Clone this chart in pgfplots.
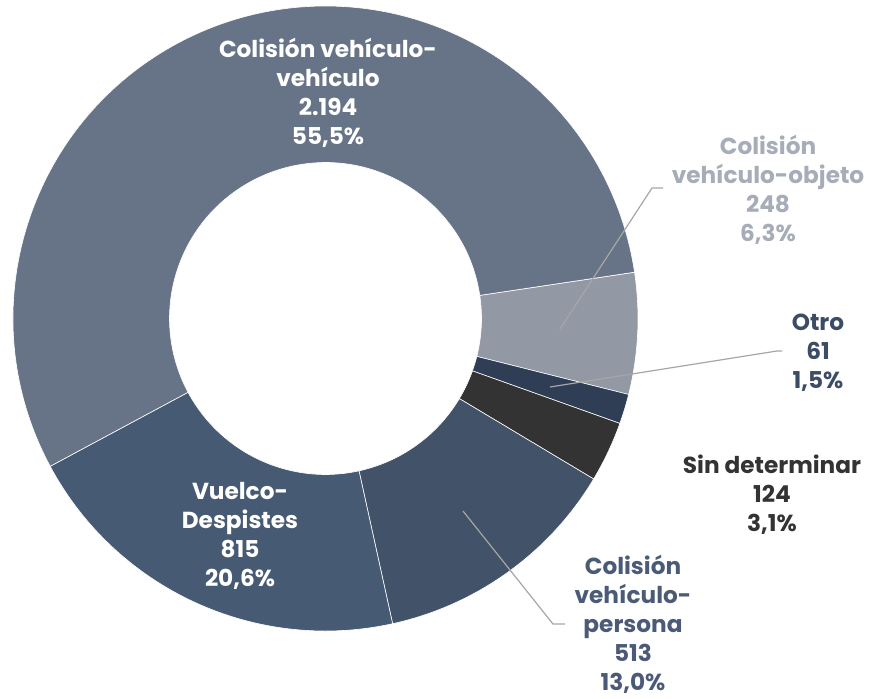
\documentclass[border=0pt]{standalone}
\usepackage{pgfplots}
\pgfplotsset{compat=1.18}
\usepackage{pgfplotstable}
\usepackage{fontspec}
\setmainfont{Poppins}
\definecolor{cvv}{HTML}{677487}
\definecolor{cvo}{HTML}{9299A5}
\definecolor{cot}{HTML}{2F3E54}
\definecolor{csd}{HTML}{333333}
\definecolor{cvp}{HTML}{425269}
\definecolor{cvu}{HTML}{475A74}
\definecolor{lvo}{HTML}{A6ADB8}
\definecolor{lot}{HTML}{3D4C66}
\definecolor{lvp}{HTML}{4B5B77}
\definecolor{lead}{HTML}{A6A6A6}
% values
\def\vvv{2194}
\def\vvo{248}
\def\vot{61}
\def\vsd{124}
\def\vvp{513}
\def\vvu{815}
\pgfmathsetmacro\tot{\vvv+\vvo+\vot+\vsd+\vvp+\vvu}
\pgfmathsetmacro\aA{8.5}
\pgfmathsetmacro\aB{\aA-360*(\vvo/\tot)}
\pgfmathsetmacro\aC{\aB-360*(\vot/\tot)}
\pgfmathsetmacro\aD{\aC-360*(\vsd/\tot)}
\pgfmathsetmacro\aE{\aD-360*(\vvp/\tot)}
\pgfmathsetmacro\aF{\aE-360*(\vvu/\tot)}
\pgfmathsetmacro\aG{\aF-360*(\vvv/\tot)}
\def\Ro{156.25pt}
\def\Ri{78pt}
\newcommand\seg[3]{% color, start, end
  \fill[#1, draw=white, line width=0.3pt, shift={(axis cs:325.5,379.5)}]
    (#2:\Ri) -- (#2:\Ro) arc[start angle=#2, end angle=#3, radius=\Ro]
    -- (#3:\Ri) arc[start angle=#3, end angle=#2, radius=\Ri] -- cycle;}
\tikzset{lab/.style={font=\bfseries\fontsize{11.6}{14.5}\selectfont, align=center, inner sep=0pt}}
\begin{document}
\begin{tikzpicture}
\begin{axis}[
  x=0.5pt, y=0.5pt,
  xmin=0, xmax=874, ymin=0, ymax=698,
  hide axis, clip=false,
]
\seg{cvo}{\aA}{\aB}
\seg{cot}{\aB}{\aC}
\seg{csd}{\aC}{\aD}
\seg{cvp}{\aD}{\aE}
\seg{cvu}{\aE}{\aF}
\seg{cvv}{\aF}{\aG}
% leader lines
\addplot[lead, line width=0.6pt, no marks] coordinates {(560,369) (652,510) (663,510)};
\addplot[lead, line width=0.6pt, no marks] coordinates {(550,311) (777,347) (782,347)};
\addplot[lead, line width=0.6pt, no marks] coordinates {(463,187) (553,74) (565,74)};
% labels
\node[lab, white] at (axis cs:328,605) {Colisión vehículo-\\vehículo\\2.194\\55,5\%};
\node[lab, lvo] at (axis cs:768,508) {Colisión\\vehículo-objeto\\248\\6,3\%};
\node[lab, lot] at (axis cs:818,345) {Otro\\61\\1,5\%};
\node[lab, csd] at (axis cs:772,203) {Sin determinar\\124\\3,1\%};
\node[lab, lvp] at (axis cs:633,74) {Colisión\\vehículo-\\persona\\513\\13,0\%};
\node[lab, white] at (axis cs:240,162) {Vuelco-\\Despistes\\815\\20,6\%};
\end{axis}
\pgfresetboundingbox
\path[use as bounding box] (current axis.south west) rectangle (current axis.north east);
\end{tikzpicture}
\end{document}
